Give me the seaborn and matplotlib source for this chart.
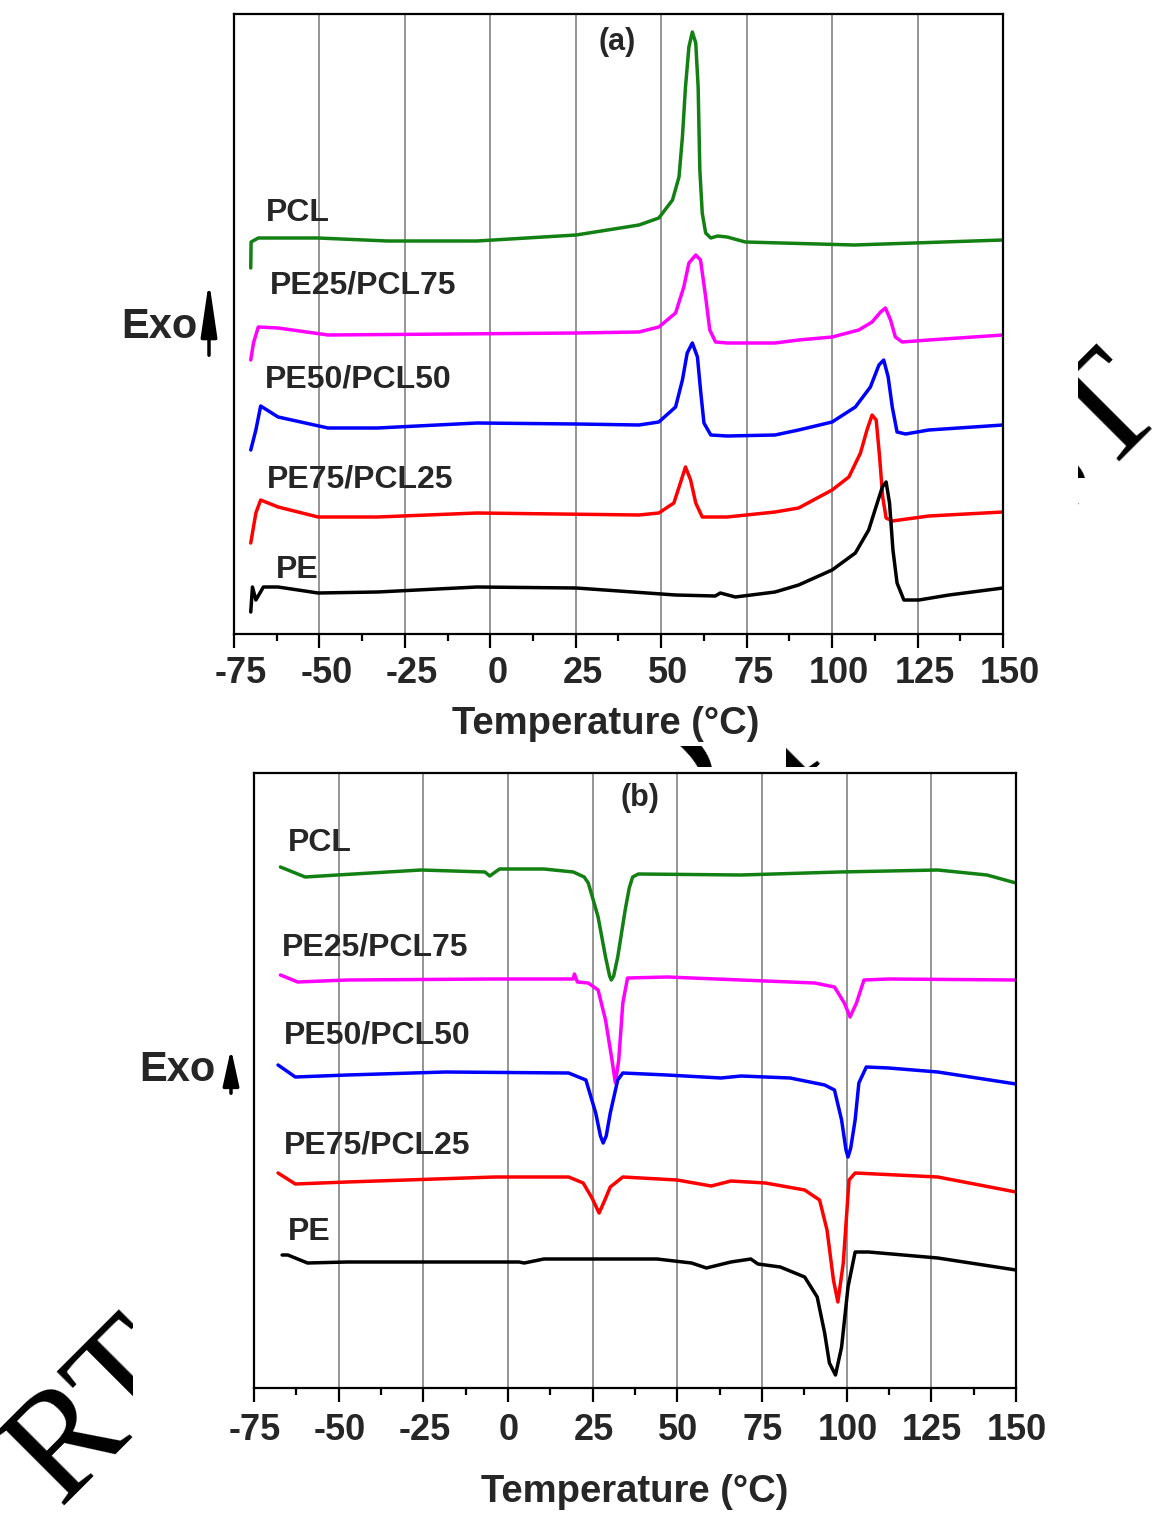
import numpy as np
import pandas as pd
import matplotlib
matplotlib.use("Agg")
import matplotlib.pyplot as plt
import seaborn as sns
from matplotlib.ticker import MultipleLocator
from matplotlib.transforms import Bbox, TransformedBbox, ScaledTranslation

# ---- panel (a): heating scans, heat flow in arbitrary units ----
a_pcl_t = [-70.1, -70.0, -67.9, -50.4, -30.1, -3.9, 25.1, 43.5, 49.3, 53.3, 55.2, 56.2, 57.1, 58.1, 59.1, 60.1, 60.8, 61.3, 62.0, 63.0, 64.5, 66.5, 69.3, 74.6, 106.5, 150.0]
a_pcl_y = [366, 392, 396, 396, 393, 393, 399, 409, 416, 434, 457, 497, 547, 587, 602, 591, 547, 464, 421, 401, 396, 398, 397, 392, 389, 394]

a_pe25_t = [-70.1, -69.3, -67.9, -62.1, -47.5, 25.1, 43.5, 49.3, 54.2, 56.6, 58.1, 60.1, 61.5, 63.0, 64.2, 65.9, 69.3, 83.3, 90.2, 100.0, 107.8, 111.7, 114.2, 115.6, 117.1, 118.5, 120.5, 128.3, 150.0]
a_pe25_y = [274, 291, 307, 306, 299, 301, 302, 307, 321, 347, 371, 379, 374, 337, 304, 292, 291, 291, 294, 297, 304, 312, 322, 326, 314, 297, 292, 294, 299]

a_pe50_t = [-70.1, -68.6, -67.2, -62.1, -47.5, -33.0, -3.9, 25.1, 43.5, 49.3, 54.2, 56.2, 57.6, 59.1, 60.6, 61.5, 62.5, 64.5, 69.3, 83.3, 90.2, 100.0, 106.8, 111.2, 113.7, 115.1, 116.4, 117.6, 119.0, 121.5, 128.3, 150.0]
a_pe50_y = [184, 204, 228, 217, 206, 206, 211, 210, 209, 212, 227, 254, 281, 291, 277, 244, 211, 199, 198, 199, 204, 212, 227, 247, 269, 274, 257, 227, 202, 200, 204, 209]

a_pe75_t = [-70.1, -68.6, -67.2, -62.1, -50.4, -33.0, -3.9, 43.5, 49.3, 53.7, 55.6, 57.1, 58.6, 60.1, 62.0, 69.3, 83.3, 90.2, 100.0, 104.9, 108.3, 110.2, 111.7, 112.9, 113.9, 114.8, 115.8, 117.6, 128.3, 150.0]
a_pe75_y = [91, 121, 134, 127, 117, 117, 121, 119, 121, 131, 151, 167, 154, 131, 117, 117, 122, 126, 144, 157, 181, 204, 219, 214, 177, 137, 116, 113, 118, 122]

a_pe_t = [-70.1, -69.6, -68.6, -66.4, -62.1, -50.4, -33.0, -3.9, 25.1, 54.2, 65.8, 67.3, 71.7, 83.3, 90.2, 100.0, 106.8, 110.7, 113.2, 114.7, 115.8, 116.8, 117.8, 119.0, 121.0, 125.4, 134.2, 150.0]
a_pe_y = [22, 47, 34, 47, 47, 41, 42, 47, 46, 39, 38, 41, 37, 42, 49, 64, 81, 104, 131, 147, 152, 131, 84, 51, 34, 34, 39, 46]

# ---- panel (b): cooling scans ----
b_pcl_t = [-67.2, -59.9, -50.4, -25.7, -6.8, -5.4, -2.5, 10.6, 19.3, 22.5, 23.7, 25.0, 26.6, 28.8, 30.0, 30.5, 31.2, 32.4, 34.6, 35.8, 36.8, 38.5, 68.8, 97.8, 126.9, 141.4, 150.0]
b_pcl_y = [521, 511, 513, 518, 516, 512, 519, 519, 516, 511, 505, 490, 471, 431, 412, 408, 412, 431, 478, 500, 511, 514, 513, 516, 518, 513, 505]

b_pe25_t = [-67.2, -62.1, -47.5, -3.9, 19.3, 19.6, 20.5, 23.7, 26.6, 28.8, 30.7, 31.7, 32.7, 33.9, 35.3, 47.0, 68.8, 90.6, 96.4, 99.3, 101.0, 102.9, 105.1, 112.4, 150.0]
b_pe25_y = [413, 406, 408, 409, 409, 414, 406, 405, 398, 368, 328, 305, 328, 385, 410, 411, 408, 405, 401, 385, 371, 385, 408, 409, 408]

b_pe50_t = [-67.9, -62.8, -47.5, -18.5, 17.9, 23.0, 25.9, 27.3, 28.1, 29.0, 30.2, 32.4, 33.9, 46.9, 62.9, 68.8, 83.3, 93.5, 96.4, 98.5, 99.8, 100.4, 101.2, 102.5, 103.6, 105.8, 112.4, 126.9, 150.0]
b_pe50_y = [323, 311, 313, 316, 315, 308, 275, 252, 245, 252, 275, 308, 315, 313, 310, 312, 310, 303, 298, 268, 238, 231, 240, 268, 305, 321, 320, 316, 304]

b_pe75_t = [-67.9, -62.8, -47.5, -3.9, 17.9, 22.2, 24.8, 26.9, 28.6, 30.2, 33.9, 49.9, 60.0, 65.8, 76.0, 87.6, 92.0, 94.2, 96.1, 97.4, 99.0, 100.7, 102.5, 126.9, 150.0]
b_pe75_y = [215, 204, 206, 211, 211, 205, 190, 175, 188, 201, 211, 208, 202, 207, 205, 198, 188, 158, 108, 86, 125, 208, 215, 211, 196]

b_pe_t = [-66.7, -65.0, -59.2, -47.5, -18.5, 3.3, 4.8, 10.6, 44.0, 54.2, 58.6, 65.8, 71.7, 73.8, 80.4, 87.6, 91.3, 93.5, 94.9, 96.7, 98.5, 100.4, 102.5, 106.5, 126.9, 150.0]
b_pe_y = [133, 133, 125, 126, 126, 126, 125, 129, 129, 125, 120, 126, 129, 124, 121, 111, 91, 55, 25, 13, 41, 101, 136, 136, 130, 118]

samples = ["PCL", "PE25/PCL75", "PE50/PCL50", "PE75/PCL25", "PE"]
colors = ["#138013", "#ff00ff", "#0000ff", "#ff0000", "#000000"]
xticks = [-75, -50, -25, 0, 25, 50, 75, 100, 125, 150]

# label positions (T, y) for the curve names
a_lab_t = [-65.6, -64.5, -65.9, -65.3, -62.7]
a_lab_y = [421, 348, 255, 155, 64]
b_lab_t = [-65.0, -66.7, -66.1, -66.1, -65.0]
b_lab_y = [545, 440, 352, 242, 156]


def make_df(ts, ys):
    parts = []
    for name, t, y in zip(samples, ts, ys):
        parts.append(pd.DataFrame({"T": t, "heat": y, "sample": name}))
    return pd.concat(parts, ignore_index=True)


df_a = make_df([a_pcl_t, a_pe25_t, a_pe50_t, a_pe75_t, a_pe_t],
               [a_pcl_y, a_pe25_y, a_pe50_y, a_pe75_y, a_pe_y])
df_b = make_df([b_pcl_t, b_pe25_t, b_pe50_t, b_pe75_t, b_pe_t],
               [b_pcl_y, b_pe25_y, b_pe50_y, b_pe75_y, b_pe_y])

sns.set_theme(style="white")
plt.rcParams["font.family"] = ["Liberation Sans", "DejaVu Sans"]
plt.rcParams["font.weight"] = "bold"
plt.rcParams["axes.unicode_minus"] = False

fig = plt.figure(figsize=(11.6, 15.17), dpi=100)
W, H = 1160, 1517


def fx(px):
    return px / W


def fy(py):
    return 1 - py / H


# watermark fragments, drawn first so everything else sits over them
def watermark(text, px, py, clip):
    t = fig.text(fx(px), fy(py), text, rotation=45, rotation_mode="anchor",
                 ha="left", va="baseline", fontsize=110, family="Liberation Serif",
                 fontweight="normal", color="black", zorder=0)
    x0, y0, x1, y1 = clip
    bb = Bbox.from_extents(fx(x0), fy(y1), fx(x1), fy(y0))
    t.set_clip_box(TransformedBbox(bb, fig.transFigure))
    t.set_clip_on(True)


watermark("RT", 60, 1506, (0, 1290, 133, 1517))
watermark("ST", 1041, 530, (1078, 330, 1160, 478))
watermark("ST", 1041, 530, (1078, 503, 1098, 522))
watermark("O", 655, 842, (672, 746, 740, 767))
watermark("I", 786, 792, (786, 746, 860, 767))

ax_a = fig.add_axes([fx(234), fy(634), fx(1003) - fx(234), fy(14) - fy(634)])
ax_b = fig.add_axes([fx(254), fy(1388), fx(1016) - fx(254), fy(773) - fy(1388)])

panels = [
    (ax_a, df_a, 620, a_lab_t, a_lab_y, "(a)", 37.1, 592, 6, 10.5, 7, 0.483),
    (ax_b, df_b, 615, b_lab_t, b_lab_y, "(b)", 39.0, 590, 8, 19, 1, 0.5),
]

for ax, df, ytop, lt, ly, tag, tag_t, tag_y, tpad, lpad, shift, lab_x in panels:
    ax.set_facecolor("none")
    sns.lineplot(data=df, x="T", y="heat", hue="sample", hue_order=samples,
                 palette=colors, sort=False, estimator=None, legend=False,
                 linewidth=2.5, ax=ax)
    for ln in ax.lines:
        ln.set_solid_joinstyle("round")
    ax.set_xlim(-75, 150)
    ax.set_ylim(0, ytop)
    ax.set_xticks(xticks)
    ax.xaxis.set_minor_locator(MultipleLocator(12.5))
    ax.set_yticks([])
    ax.grid(axis="x", which="major", color="#8c8c8c", linewidth=1.3)
    ax.tick_params(axis="x", which="major", direction="out", length=10, width=1.6,
                   labelsize=26, pad=tpad, bottom=True, top=False, color="black")
    ax.tick_params(axis="x", which="minor", direction="out", length=5, width=1.6,
                   bottom=True, top=False, color="black")
    off = ScaledTranslation(shift / 100, 0, fig.dpi_scale_trans)
    for lab in ax.get_xticklabels():
        lab.set_fontweight("bold")
        lab.set_transform(lab.get_transform() + off)
    for sp in ax.spines.values():
        sp.set_color("black")
        sp.set_linewidth(1.6)
    ax.set_xlabel("Temperature (°C)", fontsize=27.5, fontweight="bold", labelpad=lpad,
                  x=lab_x, ha="center")
    ax.set_ylabel("")
    for name, t, y in zip(samples, lt, ly):
        ax.text(t, y, name, fontsize=23, fontweight="bold", ha="left", va="center")
    ax.text(tag_t, tag_y, tag, fontsize=22, fontweight="bold", ha="center", va="center")

# Exo labels with upward arrows
for tx, ty, ax_x, y_lo, y_hi, hl in [(198, 327, 209, 358, 278, 1.5), (215, 1070, 231, 1096, 1046, 1.0)]:
    fig.text(fx(tx), fy(ty), "Exo", fontsize=30, fontweight="bold", ha="right", va="center")
    fig.add_artist(matplotlib.patches.FancyArrowPatch(
        (fx(ax_x), fy(y_lo)), (fx(ax_x), fy(y_hi)), transform=fig.transFigure,
        arrowstyle=f"-|>,head_width=0.22,head_length={hl}", mutation_scale=22,
        linewidth=2.5, color="black"))

fig.savefig("out.png", dpi=100)
